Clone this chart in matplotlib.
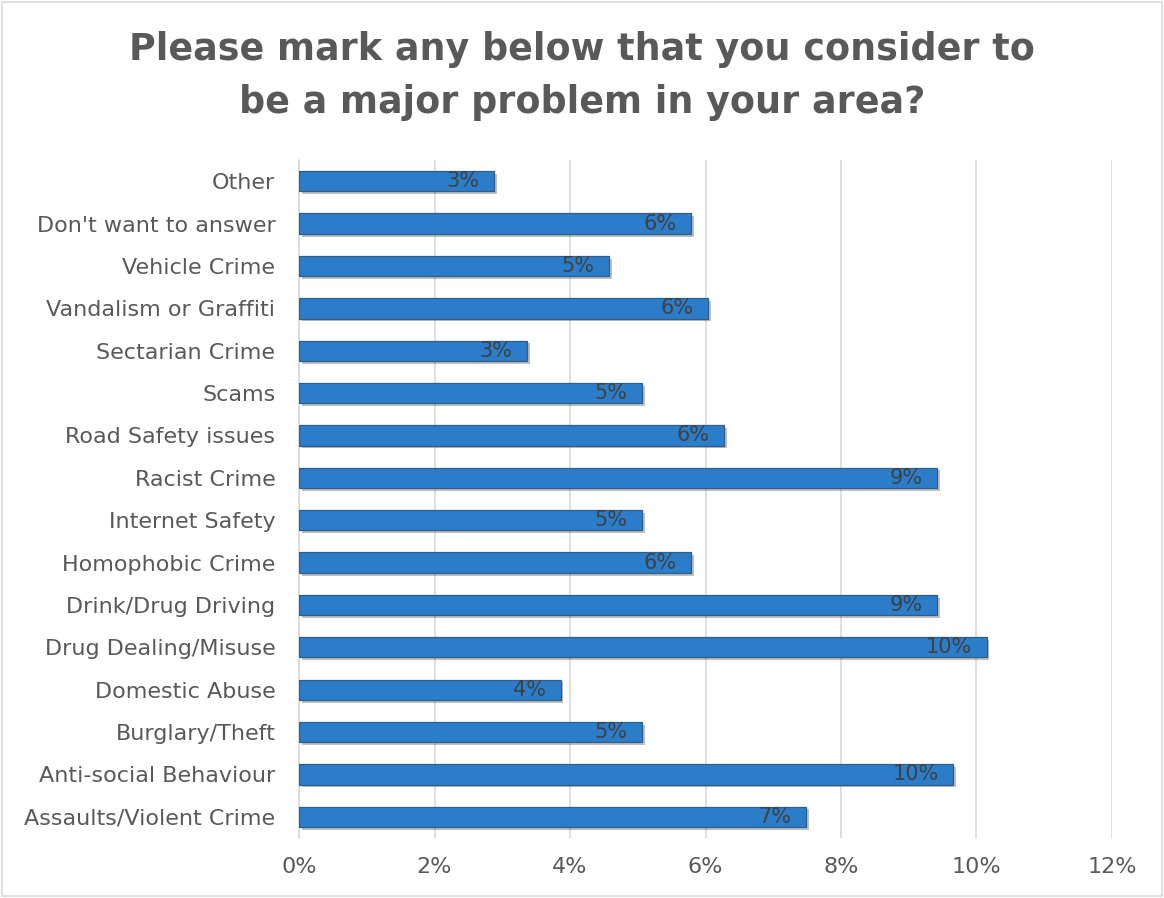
import matplotlib
matplotlib.use("Agg")
import matplotlib.pyplot as plt
import matplotlib.patheffects as pe
from matplotlib.ticker import PercentFormatter

# categories listed bottom to top
categories = [
    "Assaults/Violent Crime",
    "Anti-social Behaviour",
    "Burglary/Theft",
    "Domestic Abuse",
    "Drug Dealing/Misuse",
    "Drink/Drug Driving",
    "Homophobic Crime",
    "Internet Safety",
    "Racist Crime",
    "Road Safety issues",
    "Scams",
    "Sectarian Crime",
    "Vandalism or Graffiti",
    "Vehicle Crime",
    "Don't want to answer",
    "Other",
]
values = [7.49, 9.66, 5.07, 3.86, 10.15, 9.42, 5.79, 5.07,
          9.42, 6.28, 5.07, 3.37, 6.04, 4.58, 5.79, 2.88]

title = "Please mark any below that you consider to\nbe a major problem in your area?"
text_grey = "#595959"

plt.rcParams["font.family"] = ["DejaVu Sans"]

fig = plt.figure(figsize=(11.64, 8.98), dpi=100)
ax = fig.add_axes([0.2569, 0.0668, 0.6984, 0.755])

bars = ax.barh(range(len(categories)), values, height=0.48,
               color="#2b7dc9", edgecolor="#2e5f8c", linewidth=0.9, zorder=3)
for b in bars:
    b.set_path_effects([pe.SimplePatchShadow(offset=(2, -2), shadow_rgbFace="#000000", alpha=0.25),
                        pe.Normal()])

for i, v in enumerate(values):
    ax.text(v - 0.22, i, f"{round(v):.0f}%", ha="right", va="center",
            fontsize=15, color="#404040", zorder=4)

ax.set_xlim(0, 12)
ax.set_ylim(-0.5, len(categories) - 0.5)
ax.set_xticks(range(0, 13, 2))
ax.xaxis.set_major_formatter(PercentFormatter(decimals=0))
ax.set_yticks(range(len(categories)))
ax.set_yticklabels(categories)
ax.tick_params(axis="both", length=0, labelsize=16, labelcolor=text_grey)
ax.tick_params(axis="y", pad=17)
ax.tick_params(axis="x", pad=14)
ax.grid(axis="x", color="#d9d9d9", linewidth=1.2, zorder=0)
for s in ["top", "right", "bottom"]:
    ax.spines[s].set_visible(False)
ax.spines["left"].set_color("#d9d9d9")
ax.spines["left"].set_linewidth(1.2)

fig.text(0.5, 0.966, title, ha="center", va="top", fontsize=26.3,
         fontweight="bold", color=text_grey, linespacing=1.58)

fig.patches.append(plt.Rectangle((0.002, 0.002), 0.996, 0.996, transform=fig.transFigure,
                                 fill=False, edgecolor="#d9d9d9", linewidth=1.2))

fig.savefig("out.png", dpi=100)
